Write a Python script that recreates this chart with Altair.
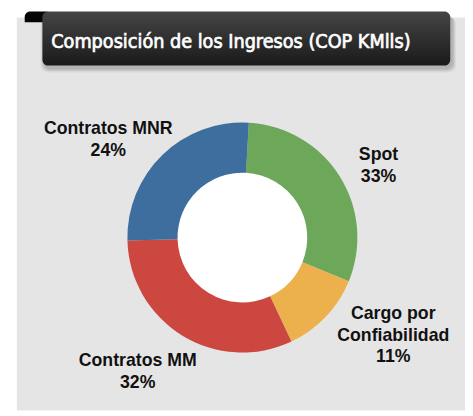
import math
import altair as alt
import pandas as pd

# ---- data ----
categories = ["Spot", "Cargo por Confiabilidad", "Contratos MM", "Contratos MNR"]
shares = [30.3, 11.8, 31.6, 26.3]          # slice sizes as drawn (percent of circle)
pct_labels = ["33%", "11%", "32%", "24%"]   # percentages printed on the chart
label_names = ["Spot", "Cargo por\nConfiabilidad", "Contratos MM", "Contratos MNR"]
colors = ["#6ca75a", "#ecb14c", "#cc4740", "#3d6e9e"]
title_text = "Composición de los Ingresos (COP KMlls)"

# ---- layout ----
W, H = 465, 406
CX, CY = 238.5, 230
R_OUT, R_IN = 117, 66
start = math.radians(3.2)
label_pos = [(377, 151), (392, 313), (132, 361), (102, 125)]

one = pd.DataFrame({"k": [0]})

panel = alt.Chart(one).mark_rect(color="#e6e5e5").encode(
    x=alt.value(9), x2=alt.value(W), y=alt.value(6), y2=alt.value(H)
)

shadows = [
    alt.Chart(one).mark_rect(color="#000000", opacity=op, cornerRadius=7).encode(
        x=alt.value(35 - d + 2), x2=alt.value(450 + d + 2), y=alt.value(2 + d), y2=alt.value(58 + d)
    )
    for d, op in [(4, 0.04), (3, 0.05), (2, 0.06), (1, 0.08)]
]

tab = alt.Chart(one).mark_rect(color="#050505", cornerRadiusTopLeft=9).encode(
    x=alt.value(17), x2=alt.value(40), y=alt.value(0), y2=alt.value(11)
)

grad = alt.LinearGradient(
    gradient="linear",
    stops=[alt.GradientStop(color="#454545", offset=0), alt.GradientStop(color="#1a1a1a", offset=1)],
    x1=0, x2=0, y1=0, y2=1,
)
title_box = alt.Chart(one).mark_rect(color=grad, cornerRadius=6).encode(
    x=alt.value(35), x2=alt.value(450), y=alt.value(0), y2=alt.value(55)
)
title = alt.Chart(one).mark_text(
    text=title_text, color="white", stroke="white", strokeWidth=0.7,
    font="DejaVu Sans Condensed, sans-serif",
    fontSize=20, align="left", baseline="alphabetic"
).encode(x=alt.value(44), y=alt.value(37))

hole = alt.Chart(one).mark_arc(radius=R_IN + 1, theta=0, theta2=2 * math.pi, color="white").encode(
    x=alt.value(CX), y=alt.value(CY)
)

df = pd.DataFrame({"cat": categories, "share": shares, "idx": list(range(len(categories)))})
donut = alt.Chart(df).mark_arc(outerRadius=R_OUT, innerRadius=R_IN).encode(
    theta=alt.Theta("share:Q", stack=True, scale=alt.Scale(range=[start, start + 2 * math.pi])),
    color=alt.Color("cat:N", scale=alt.Scale(domain=categories, range=colors), legend=None),
    order=alt.Order("idx:Q"),
    x=alt.value(CX), y=alt.value(CY),
)

labels = []
for name, pct, (lx, ly) in zip(label_names, pct_labels, label_pos):
    labels.append(
        alt.Chart(one).mark_text(
            text=name + "\n" + pct, lineBreak="\n", lineHeight=22,
            font="Liberation Sans, Arial, sans-serif", fontWeight="bold", fontSize=18,
            color="#111111", align="center", baseline="alphabetic",
        ).encode(x=alt.value(lx), y=alt.value(ly))
    )

chart = alt.layer(panel, *shadows, tab, title_box, title, hole, donut, *labels).properties(
    width=W, height=H, padding=0, autosize=alt.AutoSizeParams(type="none"), background="white"
).configure_view(stroke=None)

chart.save("out.html", embed_options={"renderer": "svg", "actions": False})
